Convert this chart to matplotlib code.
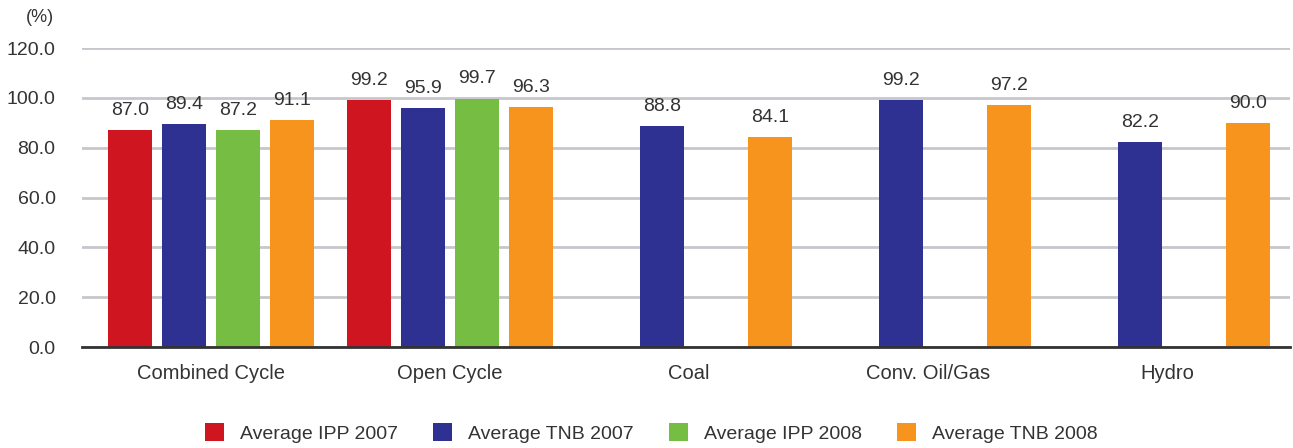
import matplotlib
matplotlib.use("Agg")
import matplotlib.pyplot as plt
import numpy as np
from matplotlib.patches import Patch

categories = ["Combined Cycle", "Open Cycle", "Coal", "Conv. Oil/Gas", "Hydro"]
series_names = ["Average IPP 2007", "Average TNB 2007", "Average IPP 2008", "Average TNB 2008"]
ipp_2007 = [87.0, 99.2, None, None, None]
tnb_2007 = [89.4, 95.9, 88.8, 99.2, 82.2]
ipp_2008 = [87.2, 99.7, None, None, None]
tnb_2008 = [91.1, 96.3, 84.1, 97.2, 90.0]
colors = ["#CF1620", "#2E3192", "#76BE43", "#F7941D"]
yticks = [0, 20, 40, 60, 80, 100, 120]

plt.rcParams['font.family'] = ['Liberation Sans', 'DejaVu Sans']

fig = plt.figure(figsize=(12.93, 4.48), dpi=100)
ax = fig.add_axes([82/1293, 1-347/448, (1290-82)/1293, (347-48)/448])

series = [ipp_2007, tnb_2007, ipp_2008, tnb_2008]
x = np.arange(len(categories))
slot = 0.226
width = 0.184
offsets = [-1.5, -0.5, 0.5, 1.5]
for s, vals, col, name in zip(range(4), series, colors, series_names):
    for i, v in enumerate(vals):
        if v is None:
            continue
        xpos = x[i] + offsets[s]*slot
        ax.bar(xpos, v, width=width, color=col, zorder=3)
        ax.text(xpos, v + 4.5, f"{v:.1f}", ha='center', va='bottom', fontsize=14, color='#333333')

ax.set_xlim(-0.54, 4.515)
ax.set_ylim(0, 120)
ax.set_yticks(yticks)
ax.set_yticklabels([f"{t:.1f}" for t in yticks], fontsize=14, color='#333333')
ax.set_xticks(x)
ax.set_xticklabels(categories, fontsize=14.5, color='#333333')
ax.tick_params(axis='both', length=0)
ax.tick_params(axis='y', pad=19)
ax.tick_params(axis='x', pad=12)
ax.grid(axis='y', color='#c6c6cc', linewidth=2, zorder=0)
for sp in ['top', 'right', 'left']:
    ax.spines[sp].set_visible(False)
ax.spines['bottom'].set_color('#333333')
ax.spines['bottom'].set_linewidth(2)
ax.spines['bottom'].set_zorder(4)

fig.text(40/1293, 1-17/448, "(%)", ha='center', va='center', fontsize=13, color='#333333')

handles = [Patch(facecolor=c, edgecolor='none') for c in colors]
fig.legend(handles, series_names, loc='center', bbox_to_anchor=(651/1293, 1-433/448),
           ncol=4, frameon=False, fontsize=14, handlelength=1.0, handleheight=1.0,
           handletextpad=0.8, columnspacing=1.8, labelcolor='#333333')

fig.savefig("out.png", dpi=100)
